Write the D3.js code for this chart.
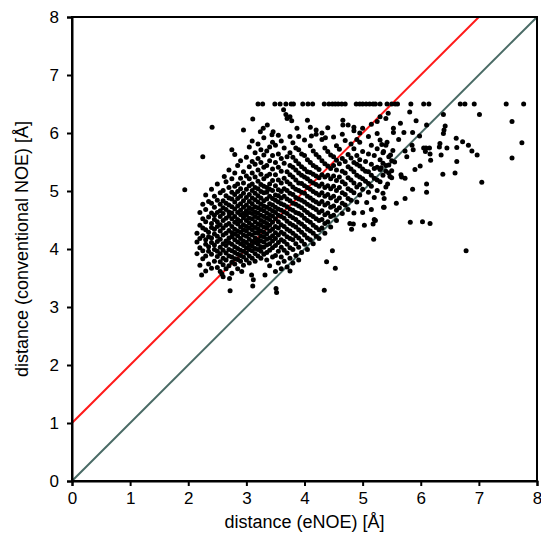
<!DOCTYPE html>
<html><head><meta charset="utf-8">
<script src="https://cdn.jsdelivr.net/npm/d3@7"></script>
<style>body{margin:0;background:#fff}</style></head>
<body><svg id="c" width="541" height="542"></svg>
<script>
// ---- data ----
const xTicks = [0,1,2,3,4,5,6,7,8];
const yTicks = [0,1,2,3,4,5,6,7,8];
const xTitle = "distance (eNOE) [Å]";
const yTitle = "distance (conventional NOE) [Å]";
// reference lines: [x1,y1,x2,y2]
const redLine = [0,1,7,8];
const grayLine = [0,0,8,8];
// points capped at 6.5 Å (top row)
const cappedX = [3.20,3.28,3.49,3.58,3.68,3.77,3.81,3.97,4.06,4.14,4.34,4.42,4.48,4.53,4.58,4.64,4.70,
  4.89,4.95,5.00,5.06,5.12,5.18,5.22,5.30,5.42,5.50,5.56,5.60,5.83,6.05,6.14,6.68,6.76,6.92,7.47,7.77];
const cappedY = 6.5;
// dense cluster, read column by column: [eNOE, [conventional NOE values]]
const denseColumns = [
 [2.15,[3.92,4.12,4.27]],
 [2.2,[3.72,4.02,4.18,4.41,4.63]],
 [2.25,[3.83,3.97,4.23,4.36,4.52,4.77]],
 [2.3,[3.62,3.88,4.08,4.16,4.33,4.47,4.68,4.93]],
 [2.35,[3.74,3.96,4.04,4.21,4.29,4.55,4.82]],
 [2.4,[3.91,4.11,4.19,4.37,4.44,4.62,4.79,5.03]],
 [2.45,[3.79,3.99,4.07,4.26,4.34,4.51,4.58,4.72,4.91]],
 [2.5,[3.68,3.87,3.96,4.13,4.22,4.39,4.47,4.63,4.84,5.12]],
 [2.55,[3.61,3.78,3.92,4.03,4.17,4.31,4.42,4.56,4.66,4.77,4.97]],
 [2.6,[3.73,3.84,3.98,4.09,4.24,4.36,4.49,4.61,4.71,4.83,5.01]],
 [2.65,[3.66,3.81,3.93,4.06,4.14,4.27,4.41,4.53,4.68,4.79,4.92,5.16]],
 [2.7,[3.71,3.88,3.99,4.11,4.19,4.32,4.44,4.57,4.64,4.76,4.88,5.06,5.36]],
 [2.75,[3.58,3.77,3.86,3.97,4.08,4.21,4.28,4.39,4.52,4.62,4.73,4.86,4.98,5.21,5.71]],
 [2.8,[3.74,3.83,3.94,4.04,4.16,4.26,4.34,4.46,4.56,4.69,4.81,4.94,5.08,5.31,5.63]],
 [2.85,[3.66,3.82,3.91,4.01,4.12,4.23,4.31,4.43,4.51,4.63,4.74,4.87,4.99,5.12,5.44]],
 [2.9,[3.79,3.89,3.98,4.09,4.18,4.29,4.38,4.48,4.59,4.67,4.78,4.91,5.04,5.22,5.52]],
 [2.95,[3.72,3.86,3.96,4.06,4.14,4.24,4.33,4.42,4.54,4.61,4.72,4.83,4.96,5.14,5.33]],
 [3.0,[3.81,3.93,4.02,4.11,4.22,4.31,4.39,4.49,4.58,4.66,4.76,4.89,5.03,5.26,5.58]],
 [3.05,[3.76,3.88,3.99,4.07,4.17,4.26,4.36,4.45,4.53,4.63,4.71,4.82,4.94,5.09,5.21,5.42,5.76]],
 [3.1,[3.84,3.97,4.05,4.13,4.24,4.33,4.41,4.52,4.61,4.69,4.78,4.88,5.01,5.12,5.31,5.51,5.86]],
 [3.15,[3.79,3.92,4.01,4.11,4.19,4.28,4.37,4.47,4.56,4.64,4.73,4.85,4.96,5.06,5.24,5.46,5.66]],
 [3.2,[3.88,3.99,4.08,4.16,4.27,4.35,4.43,4.54,4.62,4.71,4.81,4.92,5.04,5.17,5.36,5.56,5.81]],
 [3.25,[3.84,3.96,4.04,4.14,4.22,4.31,4.41,4.49,4.58,4.68,4.77,4.88,4.99,5.11,5.29,5.49,5.71]],
 [3.3,[3.91,4.03,4.12,4.21,4.29,4.38,4.47,4.56,4.66,4.74,4.83,4.97,5.08,5.21,5.41,5.62,5.92]],
 [3.35,[3.81,3.94,4.07,4.17,4.26,4.36,4.44,4.53,4.62,4.72,4.86,4.98,5.06,5.26,5.44,5.69]],
 [3.4,[3.71,3.98,4.09,4.19,4.31,4.41,4.51,4.59,4.69,4.78,4.91,5.03,5.12,5.29,5.52,5.76]],
 [3.45,[3.86,4.02,4.14,4.23,4.34,4.46,4.57,4.66,4.76,4.87,5.01,5.18,5.38,5.61,5.84]],
 [3.5,[3.61,3.89,4.06,4.18,4.28,4.39,4.52,4.63,4.72,4.84,4.93,5.09,5.28,5.49,5.79]],
 [3.55,[3.76,3.96,4.11,4.24,4.36,4.47,4.58,4.69,4.81,4.92,5.02,5.19,5.41,5.64,5.96]],
 [3.6,[3.66,3.86,4.03,4.16,4.29,4.42,4.56,4.67,4.78,4.88,4.99,5.14,5.34,5.56,5.86]],
 [3.65,[3.79,3.98,4.13,4.26,4.39,4.53,4.64,4.76,4.91,5.04,5.22,5.48,5.74]],
 [3.7,[3.69,3.93,4.08,4.21,4.34,4.48,4.61,4.73,4.86,5.01,5.16,5.33,5.59]],
 [3.75,[3.62,3.84,4.02,4.18,4.31,4.44,4.57,4.69,4.83,4.96,5.12,5.28,5.44,5.66,5.94]],
 [3.8,[3.76,3.99,4.16,4.27,4.41,4.54,4.67,4.79,4.94,5.07,5.24,5.41,5.58,5.83]],
 [3.85,[3.89,4.09,4.23,4.38,4.51,4.63,4.77,4.89,5.03,5.19,5.36,5.52,5.74]],
 [3.9,[3.81,4.03,4.19,4.33,4.46,4.61,4.74,4.86,5.01,5.14,5.31,5.47,5.71,5.94]],
 [3.95,[3.94,4.14,4.29,4.43,4.58,4.71,4.84,4.98,5.13,5.27,5.42,5.64]],
 [4.0,[4.08,4.24,4.39,4.53,4.67,4.81,4.96,5.09,5.24,5.38,5.61,5.88]],
 [4.05,[3.99,4.19,4.34,4.49,4.63,4.77,4.91,5.06,5.21,5.33,5.54]],
 [4.1,[4.16,4.31,4.46,4.59,4.74,4.88,5.03,5.17,5.32,5.49,5.78]],
 [4.15,[4.09,4.27,4.41,4.56,4.71,4.84,4.99,5.14,5.29,5.44,5.69]],
 [4.2,[4.22,4.37,4.52,4.68,4.81,4.96,5.11,5.26,5.41,5.63,5.98]],
 [4.25,[4.18,4.33,4.49,4.63,4.78,4.93,5.08,5.23,5.37,5.58]],
 [4.3,[4.36,4.51,4.66,4.82,4.97,5.12,5.28,5.52,5.89]],
 [4.35,[4.27,4.44,4.59,4.76,4.91,5.06,5.24,5.47,5.74]],
 [4.4,[4.47,4.62,4.79,4.94,5.09,5.27,5.43,5.68,6.09]],
 [4.45,[4.38,4.56,4.72,4.88,5.04,5.21,5.39,5.62]],
 [4.5,[4.58,4.74,4.91,5.08,5.26,5.44,5.59,5.93]],
 [4.55,[4.49,4.67,4.83,5.01,5.18,5.36,5.53,5.78]],
 [4.6,[4.71,4.88,5.06,5.24,5.47,5.72]],
 [4.65,[4.61,4.79,4.97,5.16,5.34,5.56,5.98]],
 [4.7,[4.76,4.94,5.12,5.31,5.51,5.87]],
 [4.75,[4.68,4.87,5.04,5.23,5.42,5.63,6.14]],
 [4.8,[4.84,5.01,5.19,5.38,5.57,5.81]],
 [4.85,[4.62,4.97,5.14,5.33,5.49,5.73,6.04]],
 [4.9,[4.81,5.07,5.27,5.46,5.61,5.89]],
 [4.95,[4.93,5.11,5.24,5.43,5.54,5.84]],
 [5.0,[4.63,5.03,5.21,5.38,5.68,6.08]],
 [5.05,[5.17,5.34,5.51]],
 [5.1,[4.98,5.13,5.33,5.64,5.94]],
 [5.15,[5.08,5.27,5.46,5.79]],
 [5.2,[4.89,5.22,5.39,5.61]],
 [5.25,[5.01,5.19,5.41,5.73,5.99]],
 [5.3,[5.16,5.37,5.54,5.88]],
 [5.35,[4.96,5.27,5.48,5.66]],
 [5.4,[5.07,5.34,5.44,5.79]],
 [5.45,[5.31,5.59]],
 [5.5,[5.23,5.52]]
];
// individually read points [eNOE, conventional NOE]
const sparsePoints = [
 [1.94,5.02],[2.41,6.10],[2.25,5.59],[2.62,5.25],[2.95,6.05],[3.11,6.24],
 [3.24,6.02],[3.29,6.08],[3.36,6.14],[3.46,6.02],[3.44,5.97],
 [3.64,6.40],[3.68,6.32],[3.70,6.25],[3.75,6.28],[3.78,6.21],[3.87,6.08],
 [2.72,3.28],[3.11,3.36],[3.51,3.32],[3.52,3.25],[2.23,3.55],[2.40,3.67],[2.60,3.52],
 [2.58,3.57],[2.71,3.49],[2.92,3.61],[3.09,3.55],[3.12,3.47],[3.32,3.55],
 [4.34,3.29],[4.53,3.67],[4.38,3.78],[4.48,3.97],[5.19,4.17],[5.03,4.41],[5.18,4.43],
 [5.22,4.49],[5.20,4.51],[5.82,4.46],[5.58,4.79],[5.37,4.72],[5.15,4.68],[5.07,4.80],
 [4.81,4.34],[4.84,4.43],[4.78,4.44],
 [5.44,6.34],[5.81,6.36],[7.01,6.32],[7.57,6.20],[5.92,6.21],[6.39,6.32],[5.65,6.17],
 [6.10,6.14],[5.53,6.08],[5.53,6.01],[5.71,6.01],[5.86,6.01],[6.42,6.12],[6.40,6.05],
 [6.39,5.99],[5.62,5.89],[5.98,5.95],[7.74,5.83],[7.57,5.57],[6.61,5.91],[6.72,5.85],
 [6.82,5.79],[6.88,5.69],[6.97,5.62],[6.62,5.75],[6.33,5.82],[6.32,5.76],[6.45,5.74],
 [6.05,5.74],[6.09,5.74],[6.15,5.74],[6.08,5.68],[6.16,5.64],[6.17,5.53],[6.35,5.62],
 [6.62,5.51],[5.85,5.79],[5.87,5.71],[5.73,5.69],[5.76,5.59],[5.99,5.43],[5.90,5.37],
 [6.38,5.29],[6.59,5.31],[7.05,5.15],[6.10,5.12],[6.10,4.98],[5.86,5.03],[5.73,4.87],
 [5.37,4.87],[5.36,4.72],[6.03,4.47],[6.16,4.44],[6.78,3.97],[5.66,5.28],
 [5.67,5.24],[5.73,5.22],[5.43,5.12],[5.30,6.28],
 [5.33,5.80],[5.36,5.68],[5.48,5.62],[5.52,5.70],[5.45,5.45],[5.32,5.40],
 [5.50,5.35],[5.47,5.25],[5.55,5.50],[5.42,5.84],
 [4.05,6.22],[4.10,6.10],[4.20,6.05],[4.30,6.00],[4.12,5.95],[4.36,5.92],[4.66,6.22],
 [4.66,6.14],[4.85,6.10],[4.95,6.00],[5.15,6.15],[5.25,6.20],[5.40,6.25]
];

// ---- chart ----
const svg = d3.select("#c");
const x = d3.scaleLinear().domain([0,8]).range([72,537]);
const y = d3.scaleLinear().domain([0,8]).range([481,17]);
const font = "'Liberation Sans', Arial, sans-serif";

const points = [];
denseColumns.forEach(([cx, ys]) => ys.forEach(v => points.push([cx, v])));
sparsePoints.forEach(p => points.push(p));
cappedX.forEach(v => points.push([v, cappedY]));

svg.append("clipPath").attr("id","clip").append("rect")
  .attr("x",x(0)).attr("y",y(8)).attr("width",x(8)-x(0)).attr("height",y(0)-y(8));

const g = svg.append("g").attr("clip-path","url(#clip)");
g.append("line").attr("x1",x(grayLine[0])).attr("y1",y(grayLine[1]))
  .attr("x2",x(grayLine[2])).attr("y2",y(grayLine[3]))
  .attr("stroke","#4a6b66").attr("stroke-width",2);
g.append("line").attr("x1",x(redLine[0])).attr("y1",y(redLine[1]))
  .attr("x2",x(redLine[2])).attr("y2",y(redLine[3]))
  .attr("stroke","#ff1a1a").attr("stroke-width",2);

g.selectAll("circle.pt").data(points).join("circle").attr("class","pt")
  .attr("cx",d=>x(d[0])).attr("cy",d=>y(d[1])).attr("r",2.5).attr("fill","#000");

// frame
svg.append("rect").attr("x",x(0)).attr("y",y(8))
  .attr("width",x(8)-x(0)).attr("height",y(0)-y(8))
  .attr("fill","none").attr("stroke","#000").attr("stroke-width",2);

const xAxis = svg.append("g").attr("transform",`translate(0,${y(0)})`)
  .call(d3.axisBottom(x).tickValues(xTicks).tickFormat(d3.format("d")).tickSize(5).tickPadding(6));
const yAxis = svg.append("g").attr("transform",`translate(${x(0)},0)`)
  .call(d3.axisLeft(y).tickValues(yTicks).tickFormat(d3.format("d")).tickSize(5).tickPadding(8));
[xAxis,yAxis].forEach(a=>{
  a.select(".domain").attr("stroke","#000").attr("stroke-width",2);
  a.selectAll(".tick line").attr("stroke","#000").attr("stroke-width",2);
  a.selectAll(".tick text").attr("fill","#000").style("font-family",font).style("font-size","17px");
});

svg.append("text").attr("x",(x(0)+x(8))/2).attr("y",528).attr("text-anchor","middle")
  .style("font-family",font).style("font-size","18px").attr("fill","#000").text(xTitle);
svg.append("text").attr("transform",`translate(28,${(y(0)+y(8))/2}) rotate(-90)`)
  .attr("text-anchor","middle")
  .style("font-family",font).style("font-size","18px").attr("fill","#000").text(yTitle);
</script></body></html>
